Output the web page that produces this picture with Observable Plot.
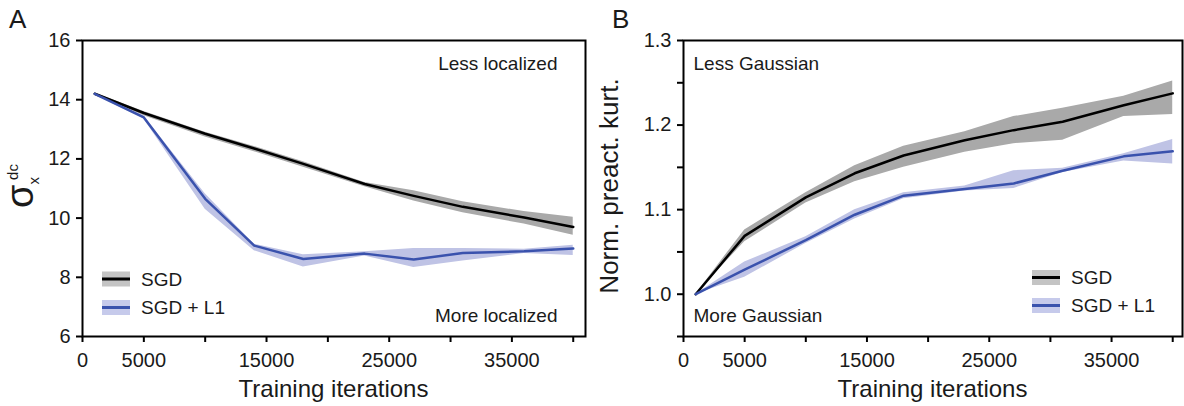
<!DOCTYPE html>
<html><head><meta charset="utf-8">
<script src="https://cdn.jsdelivr.net/npm/d3@7"></script>
<script src="https://cdn.jsdelivr.net/npm/@observablehq/plot@0.6"></script>
<style>
body{margin:0;background:#fff}
#wrap{display:flex;width:1184px;height:406px}
svg{display:block}
</style></head><body><div id="wrap"></div>
<script>
// ---- data ----
const iterations = [1000, 5000, 10000, 14000, 18000, 23000, 27000, 31000, 36000, 40000];

// Panel A: sigma_x^dc
const sgdA_mean = [14.2, 13.55, 12.85, 12.35, 11.83, 11.15, 10.75, 10.38, 10.02, 9.7];
const sgdA_lo   = [14.16, 13.46, 12.74, 12.24, 11.72, 11.06, 10.58, 10.18, 9.8, 9.42];
const sgdA_hi   = [14.23, 13.6, 12.9, 12.42, 11.9, 11.2, 10.92, 10.55, 10.22, 10.03];
const l1A_mean  = [14.2, 13.4, 10.65, 9.07, 8.62, 8.8, 8.6, 8.82, 8.88, 8.97];
const l1A_lo    = [14.17, 13.35, 10.3, 8.9, 8.35, 8.72, 8.33, 8.55, 8.8, 8.74];
const l1A_hi    = [14.23, 13.45, 10.82, 9.12, 8.76, 8.86, 8.97, 8.97, 8.95, 9.08];

// Panel B: normalized preactivation kurtosis
const sgdB_mean = [1.0, 1.069, 1.1145, 1.143, 1.164, 1.182, 1.194, 1.204, 1.2235, 1.2375];
const sgdB_lo   = [1.0, 1.062, 1.108, 1.133, 1.15, 1.168, 1.178, 1.182, 1.21, 1.2125];
const sgdB_hi   = [1.0, 1.076, 1.12, 1.152, 1.175, 1.192, 1.21, 1.22, 1.234, 1.252];
const l1B_mean  = [1.0, 1.029, 1.064, 1.094, 1.1165, 1.1245, 1.131, 1.146, 1.163, 1.169];
const l1B_lo    = [1.0, 1.02, 1.06, 1.089, 1.113, 1.122, 1.125, 1.144, 1.1575, 1.154];
const l1B_hi    = [1.0, 1.038, 1.068, 1.1, 1.12, 1.128, 1.146, 1.149, 1.166, 1.183];

const seriesNames = ["SGD", "SGD + L1"];
const xTicks = [0, 5000, 10000, 15000, 20000, 25000, 30000, 35000, 40000];
const xLabeled = [0, 5000, 15000, 25000, 35000];
const yTicksA = [6, 8, 10, 12, 14, 16];
const yTicksB = [0.95, 1.0, 1.05, 1.1, 1.15, 1.2, 1.25, 1.3];
const yLabeledB = [1.0, 1.1, 1.2, 1.3];
const xLabel = "Training iterations";
const yLabelB = "Norm. preact. kurt.";
const annotA = ["Less localized", "More localized"];
const annotB = ["Less Gaussian", "More Gaussian"];

// ---- styles ----
const FONT = "'Liberation Sans', Arial, Helvetica, sans-serif";
const TXT = "#1a1a1a";
const C = {
  sgdLine: "#000000", sgdBand: "#a9a9a9", sgdPatch: "#c4c4c4",
  l1Line: "#3a52ad", l1Band: "#bfc3e5", l1Patch: "#c6caeb"
};

function rows(mean, lo, hi) {
  return iterations.map((it, i) => ({it, mean: mean[i], lo: lo[i], hi: hi[i]}));
}

function panel({sgd, l1, xDomain, yDomain, yTicks, yFmt, margins, annot}) {
  return Plot.plot({
    width: 592, height: 406,
    marginLeft: margins[0], marginRight: margins[1], marginTop: 40, marginBottom: 70,
    style: {fontFamily: FONT, fontSize: "20px", color: TXT, background: "#fff", overflow: "visible"},
    x: {domain: xDomain},
    y: {domain: yDomain},
    marks: [
      Plot.areaY(sgd, {x: "it", y1: "lo", y2: "hi", fill: C.sgdBand}),
      Plot.areaY(l1, {x: "it", y1: "lo", y2: "hi", fill: C.l1Band}),
      Plot.lineY(sgd, {x: "it", y: "mean", stroke: C.sgdLine, strokeWidth: 2.5}),
      Plot.lineY(l1, {x: "it", y: "mean", stroke: C.l1Line, strokeWidth: 2.5}),
      Plot.frame({stroke: "#000", strokeWidth: 2}),
      Plot.axisX({ticks: xTicks, tickSize: 6, tickPadding: 10, strokeWidth: 2, stroke: "#000",
        tickFormat: d => xLabeled.includes(d) ? String(d) : "", label: null, fontSize: 20}),
      Plot.axisY({ticks: yTicks, tickSize: 6, tickPadding: 6, strokeWidth: 2, stroke: "#000",
        tickFormat: yFmt, label: null, fontSize: 20}),
      ...annot
    ]
  });
}

const sgdA = rows(sgdA_mean, sgdA_lo, sgdA_hi);
const l1A = rows(l1A_mean, l1A_lo, l1A_hi);
const sgdB = rows(sgdB_mean, sgdB_lo, sgdB_hi);
const l1B = rows(l1B_mean, l1B_lo, l1B_hi);

const svgA = panel({
  sgd: sgdA, l1: l1A, xDomain: [0, 41000], yDomain: [6, 16], yTicks: yTicksA,
  yFmt: d => String(d), margins: [82, 7],
  annot: [
    Plot.text([annotA[0]], {frameAnchor: "top-right", dx: -28, dy: 23, textAnchor: "end", lineAnchor: "middle", fontSize: 19, fill: TXT}),
    Plot.text([annotA[1]], {frameAnchor: "bottom-right", dx: -28, dy: -21, textAnchor: "end", lineAnchor: "middle", fontSize: 19, fill: TXT})
  ]
});
const svgB = panel({
  sgd: sgdB, l1: l1B, xDomain: [0, 40800], yDomain: [0.95, 1.3], yTicks: yTicksB,
  yFmt: d => yLabeledB.some(v => Math.abs(v - d) < 1e-9) ? d.toFixed(1) : "", margins: [91, 2],
  annot: [
    Plot.text([annotB[0]], {frameAnchor: "top-left", dx: 10, dy: 23, textAnchor: "start", lineAnchor: "middle", fontSize: 19, fill: TXT}),
    Plot.text([annotB[1]], {frameAnchor: "bottom-left", dx: 10, dy: -21, textAnchor: "start", lineAnchor: "middle", fontSize: 19, fill: TXT})
  ]
});

const wrap = document.getElementById("wrap");
wrap.append(svgA, svgB);

function decorate(svg, {letter, letterX, cx, yLabel, legend}) {
  const s = d3.select(svg);
  s.append("text").attr("x", letterX).attr("y", 28).attr("font-size", 26).attr("text-anchor", "start")
    .attr("font-family", FONT).attr("fill", TXT).text(letter);
  s.append("text").attr("x", cx).attr("y", 397).attr("text-anchor", "middle")
    .attr("font-size", 24).attr("font-family", FONT).attr("fill", TXT).text(xLabel);
  yLabel(s);
  const g = s.append("g").attr("font-family", FONT).attr("font-size", 19).attr("fill", TXT)
    .attr("text-anchor", "start");
  const items = [[C.sgdPatch, C.sgdLine], [C.l1Patch, C.l1Line]];
  items.forEach(([patch, line], i) => {
    const cy = legend.ys[i];
    g.append("rect").attr("x", legend.x).attr("y", cy - 7.5).attr("width", 28).attr("height", 15).attr("fill", patch);
    g.append("line").attr("x1", legend.x).attr("x2", legend.x + 28).attr("y1", cy).attr("y2", cy)
      .attr("stroke", line).attr("stroke-width", 3);
    g.append("text").attr("x", legend.x + 39).attr("y", cy).attr("dy", "0.35em")
      .attr("text-anchor", "start").text(seriesNames[i]);
  });
}

decorate(svgA, {
  letter: "A", letterX: 9, cx: 333.5,
  yLabel: s => {
    const t = s.append("text").attr("transform", "translate(33,186) rotate(-90)")
      .attr("text-anchor", "middle").attr("font-family", FONT).attr("fill", TXT);
    t.append("tspan").attr("font-size", 38).text("σ");
    t.append("tspan").attr("font-size", 15).attr("dy", 6).text("x");
    t.append("tspan").attr("font-size", 15).attr("dx", -3).attr("dy", -21).text("dc");
  },
  legend: {x: 102, ys: [279, 307.5]}
});
decorate(svgB, {
  letter: "B", letterX: 20, cx: 340.5,
  yLabel: s => {
    s.append("text").attr("transform", "translate(26,186) rotate(-90)")
      .attr("text-anchor", "middle").attr("font-family", FONT).attr("font-size", 26)
      .attr("fill", TXT).text(yLabelB);
  },
  legend: {x: 440, ys: [277.5, 305.5]}
});
</script>
</body></html>
